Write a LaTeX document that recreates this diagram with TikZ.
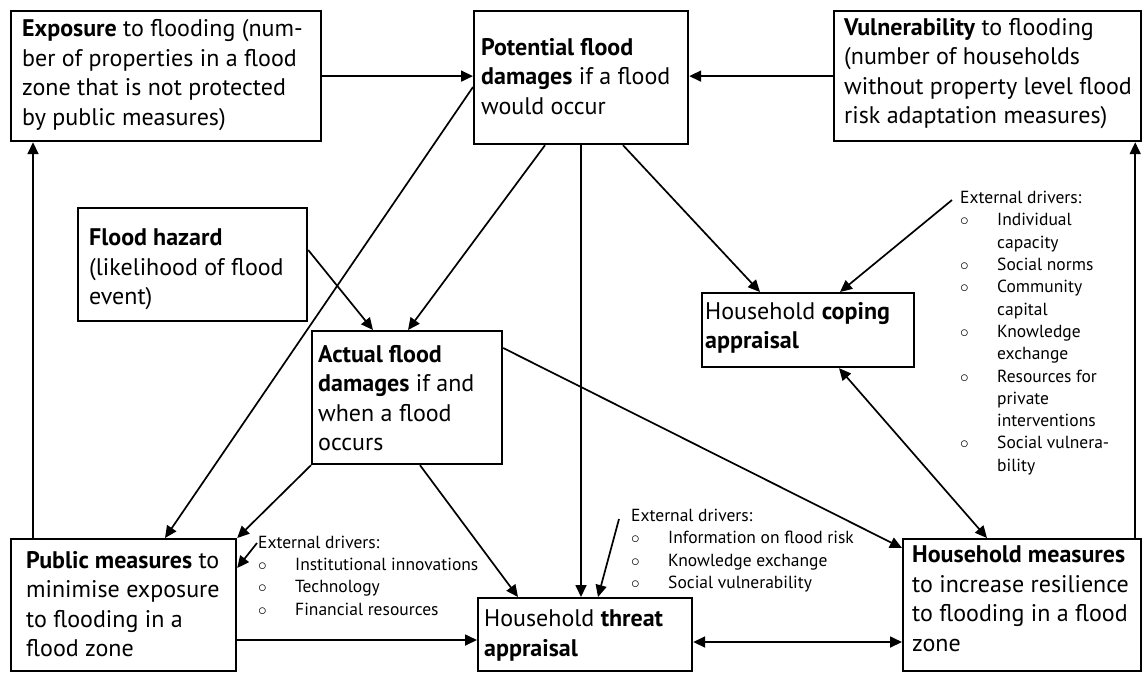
\documentclass[tikz,border=0pt]{standalone}
\usepackage{fontspec}
\setmainfont{PT Sans}
\usetikzlibrary{arrows.meta}
\newcommand{\itm}{\makebox[37pt][l]{$\circ$}}
\newcommand{\ind}{\hspace*{37pt}}
\begin{document}
\begin{tikzpicture}[x=1pt,y=-1pt,
  box/.style={draw, line width=2.2pt, anchor=north west, inner sep=0pt},
  txt/.style={anchor=west, align=left, inner sep=0pt, font=\fontsize{24}{29.5}\selectfont},
  arr/.style={line width=1.7pt, -{Triangle[length=12pt,width=11pt]}},
  darr/.style={line width=1.7pt, {Triangle[length=12pt,width=11pt]}-{Triangle[length=12pt,width=11pt]}},
  drv/.style={anchor=north west, align=left, inner sep=0pt, font=\fontsize{17.5}{22.3}\selectfont}]

\path[use as bounding box] (0,0) rectangle (1142,673);

% boxes
\node[box, minimum width=310pt, minimum height=130pt] (expo) at (10,10) {};
\node[box, minimum width=214pt, minimum height=133pt] (pot) at (473,10) {};
\node[box, minimum width=307pt, minimum height=130pt] (vul) at (833,10) {};
\node[box, minimum width=229pt, minimum height=113pt] (haz) at (77,207) {};
\node[box, minimum width=190pt, minimum height=133pt] (act) at (311,330) {};
\node[box, minimum width=212pt, minimum height=74pt] (cope) at (701,292) {};
\node[box, minimum width=225pt, minimum height=132pt] (pub) at (10,538) {};
\node[box, minimum width=214pt, minimum height=73pt] (thr) at (477,597) {};
\node[box, minimum width=238pt, minimum height=132pt] (hhm) at (902,538) {};

% box texts
\node[txt] (expoT) at (22,75) {\textbf{Exposure} to flooding (num-\\ber of properties in a flood\\zone that is not protected\\by public measures)};
\node[txt] (potT) at (481,76.5) {\textbf{Potential flood}\\\textbf{damages} if a flood\\would occur};
\node[txt] (vulT) at (844,73.5) {\textbf{Vulnerability} to flooding\\(number of households\\without property level flood\\risk adaptation measures)};
\node[txt] (hazT) at (89,269.5) {\textbf{Flood hazard}\\(likelihood of flood\\event)};
\node[txt] (actT) at (318,398) {\textbf{Actual flood}\\\textbf{damages} if and\\when a flood\\occurs};
\node[txt] (copeT) at (705,328) {Household \textbf{coping}\\\textbf{appraisal}};
\node[txt] (pubT) at (26,604) {\textbf{Public measures} to\\minimise exposure\\to flooding in a\\flood zone};
\node[txt] (thrT) at (484,635.5) {Household \textbf{threat}\\\textbf{appraisal}};
\node[txt] (hhmT) at (912,598.5) {\textbf{Household measures}\\to increase resilience\\to flooding in a flood\\zone};

% external drivers
\node[drv] (drvC) at (960,191)
  {External drivers:\\
   \itm Individual\\ \ind capacity\\
   \itm Social norms\\
   \itm Community\\ \ind capital\\
   \itm Knowledge\\ \ind exchange\\
   \itm Resources for\\ \ind private\\ \ind interventions\\
   \itm Social vulnera-\\ \ind bility};
\node[drv] (drvP) at (258,535.5)
  {External drivers:\\
   \itm Institutional innovations\\
   \itm Technology\\
   \itm Financial resources};
\node[drv] (drvT) at (631,509)
  {External drivers:\\
   \itm Information on flood risk\\
   \itm Knowledge exchange\\
   \itm Social vulnerability};

\coordinate (cC) at (952,200);
\coordinate (cP) at (257,543);
\coordinate (cT) at (619,519);

% connectors
\draw[arr] (expo.east) -- (expo.east -| pot.west);
\draw[arr] (vul.west) -- (vul.west -| pot.east);
\draw[arr] ([xshift=23pt]pub.north west) -- ([xshift=23pt]pub.north west |- expo.south);
\draw[arr] ([xshift=-7pt]hhm.north east) -- ([xshift=-7pt]hhm.north east |- vul.south);
\draw[arr] ([yshift=-77pt]pot.north west) -- ([xshift=155pt]pub.north west);
\draw[arr] ([xshift=72pt]pot.south west) -- ([xshift=97pt]act.north west);
\draw[arr] ([yshift=-43pt]haz.north east) -- ([xshift=62pt]act.north west);
\draw[arr] ([xshift=108pt]pot.south west) -- ([xshift=108pt]pot.south west |- thr.north);
\draw[arr] ([xshift=150pt]pot.south west) -- ([xshift=59pt]cope.north west);
\draw[arr] (cC) -- ([xshift=139pt]cope.north west);
\draw[arr] ([yshift=-18pt]act.north east) -- ([yshift=-10pt]hhm.north west);
\draw[darr] ([xshift=138pt]cope.south west) -- ([xshift=85pt]hhm.north west);
\draw[arr] (act.south west) -- (pub.north east);
\draw[arr] ([xshift=109pt]act.south west) -- ([xshift=41pt]thr.north west);
\draw[arr] ([yshift=-102pt]pub.north east) -- ([yshift=-102pt]pub.north east -| thr.west);
\draw[darr] ([yshift=-45pt]thr.north east) -- ([yshift=-45pt]thr.north east -| hhm.west);
\draw[arr] (cP) -- ([yshift=-30pt]pub.north east);
\draw[arr] (cT) -- ([xshift=121pt]thr.north west);
\end{tikzpicture}
\end{document}
